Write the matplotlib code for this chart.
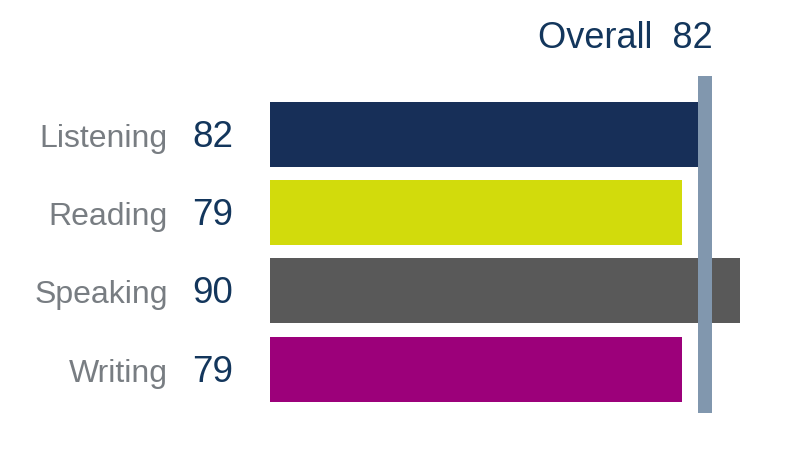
import matplotlib.pyplot as plt

skills = ['Listening', 'Reading', 'Speaking', 'Writing']
scores = [82, 79, 90, 79]
overall = 82
bar_colors = ['#172f58', '#d2db0c', '#595959', '#9c007a']

plt.rcParams['font.family'] = ['Liberation Sans', 'DejaVu Sans']

fig = plt.figure(figsize=(7.96, 4.72), dpi=100)
W, H = 796, 472
# axes: x from 270px to 792px (0..100), y from 60px to 430px
ax = fig.add_axes([270 / W, 1 - 430 / H, 522 / W, 370 / H])

pos = list(range(len(skills)))
ax.barh(pos, scores, height=0.83, color=bar_colors, zorder=2)

# overall marker band
ax.axvspan(overall, overall + 2.7, ymin=0.046, ymax=0.957, color='#8197ae', zorder=3, lw=0)

ax.set_xlim(0, 100)
ax.set_ylim(295.5 / 78.2, -74.5 / 78.2)
ax.axis('off')

for i, (name, val) in enumerate(zip(skills, scores)):
    ax.annotate(name, xy=(0, i), xytext=(-73.5, -9), textcoords='offset points',
                ha='right', va='baseline', fontsize=23, color='#787d82')
    ax.annotate(str(val), xy=(0, i), xytext=(-56, -9), textcoords='offset points',
                ha='left', va='baseline', fontsize=26.5, color='#13365c')

fig.text(713 / W, 1 - 48 / H, 'Overall  ' + str(overall), ha='right', va='baseline',
         fontsize=26, color='#13365c')

fig.savefig('out.png', dpi=100)
